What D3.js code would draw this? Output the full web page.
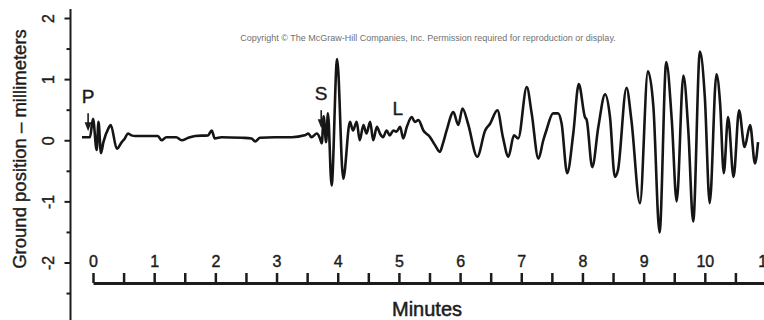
<!DOCTYPE html>
<html>
<head>
<meta charset="utf-8">
<script src="https://cdn.jsdelivr.net/npm/d3@7"></script>
<style>
  body { margin: 0; background: #fff; }
  svg { display: block; font-family: "Liberation Sans", Arial, sans-serif; }
</style>
</head>
<body>
<svg id="chart" width="764" height="320"></svg>
<script>
// seismogram trace: time in minutes, ground position in mm
const minutes = [
  -0.18, -0.05, 0.00, 0.06, 0.09, 0.13, 0.17, 0.25, 0.29, 0.39,
  0.47, 0.52, 0.57, 0.63, 0.69, 1.06, 1.12, 1.20, 1.36, 1.45,
  1.56, 1.67, 1.88, 1.94, 1.99, 2.10, 2.43, 2.59, 2.65, 2.73,
  2.97, 3.25, 3.46, 3.52, 3.57, 3.66, 3.71, 3.74, 3.77, 3.81,
  3.84, 3.90, 3.99, 4.09, 4.20, 4.25, 4.31, 4.36, 4.42, 4.47,
  4.53, 4.58, 4.64, 4.69, 4.74, 4.80, 4.85, 4.91, 4.96, 5.02,
  5.07, 5.13, 5.21, 5.26, 5.32, 5.40, 5.51, 5.59, 5.67, 5.72,
  5.78, 5.89, 5.97, 6.04, 6.13, 6.28, 6.41, 6.49, 6.61, 6.70,
  6.79, 6.88, 6.95, 7.09, 7.17, 7.28, 7.36, 7.41, 7.52, 7.60,
  7.66, 7.75, 7.85, 7.94, 8.04, 8.07, 8.16, 8.26, 8.37, 8.45,
  8.53, 8.58, 8.72, 8.80, 8.94, 9.07, 9.16, 9.26, 9.37, 9.46,
  9.54, 9.65, 9.73, 9.81, 9.92, 10.00, 10.08, 10.19, 10.25, 10.31,
  10.38, 10.47, 10.56, 10.65, 10.74, 10.82, 10.87
];
const groundMm = [
  0.05, 0.05, 0.35, -0.16, 0.30, -0.21, -0.03, 0.19, 0.25, -0.14,
  -0.03, 0.03, 0.11, 0.08, 0.07, 0.07, 0.00, 0.05, 0.05, 0.00,
  0.04, 0.07, 0.08, 0.16, 0.03, 0.05, 0.04, 0.03, -0.02, 0.04,
  0.05, 0.05, 0.08, 0.11, 0.05, 0.11, 0.03, -0.05, 0.39, -0.03,
  0.44, -0.74, 1.33, -0.63, 0.30, 0.16, 0.30, 0.00, 0.25, 0.11,
  0.30, 0.00, 0.22, 0.11, 0.05, 0.16, 0.08, 0.16, 0.14, 0.22,
  0.03, 0.22, 0.38, 0.30, 0.33, 0.16, 0.05, -0.08, -0.19, -0.05,
  0.16, 0.46, 0.25, 0.52, 0.27, -0.27, 0.16, 0.27, 0.49, 0.05,
  -0.27, 0.08, 0.03, 0.87, 0.44, -0.30, 0.00, 0.16, 0.44, 0.44,
  0.27, -0.54, 0.11, 0.92, 0.38, 0.33, -0.44, 0.22, 0.75, 0.38,
  -0.60, -0.49, 0.86, 0.33, -1.03, 1.13, 0.54, -1.51, 1.28, 0.33,
  -1.00, 1.06, 0.16, -1.33, 1.45, 0.71, -1.03, 1.08, 0.60, -0.54,
  0.38, -0.60, 0.49, -0.11, 0.25, -0.38, -0.03
];

// wave arrivals
const phaseNames = ['P', 'S', 'L'];
const phaseTimes = [-0.08, 3.73, 4.98];
const phaseArrow = [true, true, false];

const xTickValues = d3.range(0, 11.01, 0.5);
const yTickValues = d3.range(-2.5, 2.01, 0.5);

const svg = d3.select('#chart');
const ink = '#1c1c1c';

const x = d3.scaleLinear().domain([0, 11]).range([93, 766]);
const y = d3.scaleLinear().domain([-2, 2]).range([262.5, 18]);

// x axis (ticks point up, labels above)
const xAxis = d3.axisTop(x)
  .tickValues(xTickValues)
  .tickSizeInner(10)
  .tickSizeOuter(0)
  .tickPadding(6)
  .tickFormat((d) => (d % 1 === 0 ? d : ''));

const gx = svg.append('g')
  .attr('transform', 'translate(0,283)')
  .call(xAxis);
gx.select('.domain').attr('stroke', ink).attr('stroke-width', 3);
gx.selectAll('.tick line').attr('stroke', ink).attr('stroke-width', 2.5);
gx.selectAll('.tick text')
  .attr('fill', ink)
  .attr('stroke', ink)
  .attr('stroke-width', 0.4)
  .style('font-size', '16px');

svg.append('text')
  .attr('x', 427)
  .attr('y', 316)
  .attr('text-anchor', 'middle')
  .attr('fill', ink)
  .attr('stroke', ink)
  .attr('stroke-width', 0.5)
  .style('font-size', '20px')
  .text('Minutes');

// y axis with rotated labels
const yAxis = d3.axisLeft(y)
  .tickValues(yTickValues)
  .tickSizeInner(6)
  .tickSizeOuter(0)
  .tickFormat((d) => (d % 1 === 0 ? d3.format('d')(d).replace('−', '-') : ''));

const gy = svg.append('g')
  .attr('transform', 'translate(70.5,0)')
  .call(yAxis);
gy.select('.domain').remove();
gy.append('line')
  .attr('x1', 0).attr('x2', 0)
  .attr('y1', 9).attr('y2', 320)
  .attr('stroke', ink)
  .attr('stroke-width', 2);
gy.selectAll('.tick line')
  .attr('stroke', ink)
  .attr('stroke-width', 2)
  .attr('x2', (d) => (d % 1 === 0 ? -6 : -4));
gy.selectAll('.tick text')
  .attr('x', null)
  .attr('dy', '0.35em')
  .attr('text-anchor', 'middle')
  .attr('transform', 'translate(-22.5,0) rotate(-90)')
  .attr('fill', ink)
  .attr('stroke', ink)
  .attr('stroke-width', 0.4)
  .style('font-size', '16px');

svg.append('text')
  .attr('transform', 'translate(26,149) rotate(-90)')
  .attr('text-anchor', 'middle')
  .attr('fill', ink)
  .attr('stroke', ink)
  .attr('stroke-width', 0.4)
  .style('font-size', '18.5px')
  .text('Ground position – millimeters');

// copyright line
svg.append('text')
  .attr('x', 428)
  .attr('y', 41)
  .attr('text-anchor', 'middle')
  .attr('fill', '#707070')
  .style('font-size', '9px')
  .text('Copyright © The McGraw-Hill Companies, Inc. Permission required for reproduction or display.');

// trace
const trace = d3.line()
  .x((d) => x(d[0]))
  .y((d) => y(d[1]))
  .curve(d3.curveMonotoneX);

svg.append('path')
  .datum(d3.zip(minutes, groundMm))
  .attr('d', trace)
  .attr('fill', 'none')
  .attr('stroke', '#151515')
  .attr('stroke-width', 2.6)
  .attr('stroke-linejoin', 'round');

// phase markers
const labelHeight = {P: 0.72, S: 0.77, L: 0.52};
phaseNames.forEach((name, i) => {
  const px = x(phaseTimes[i]);
  svg.append('text')
    .attr('x', px)
    .attr('y', y(labelHeight[name]) + 7)
    .attr('text-anchor', 'middle')
    .attr('fill', ink)
    .attr('stroke', ink)
    .attr('stroke-width', 0.4)
    .style('font-size', '19px')
    .text(name);
  if (phaseArrow[i]) {
    const top = y(labelHeight[name]) + 17;
    svg.append('line')
      .attr('x1', px).attr('x2', px)
      .attr('y1', top).attr('y2', top + 12)
      .attr('stroke', ink)
      .attr('stroke-width', 1.6);
    svg.append('path')
      .attr('d', `M${px - 3.5},${top + 9}L${px + 3.5},${top + 9}L${px},${top + 18}Z`)
      .attr('fill', ink);
  }
});
</script>
</body>
</html>
